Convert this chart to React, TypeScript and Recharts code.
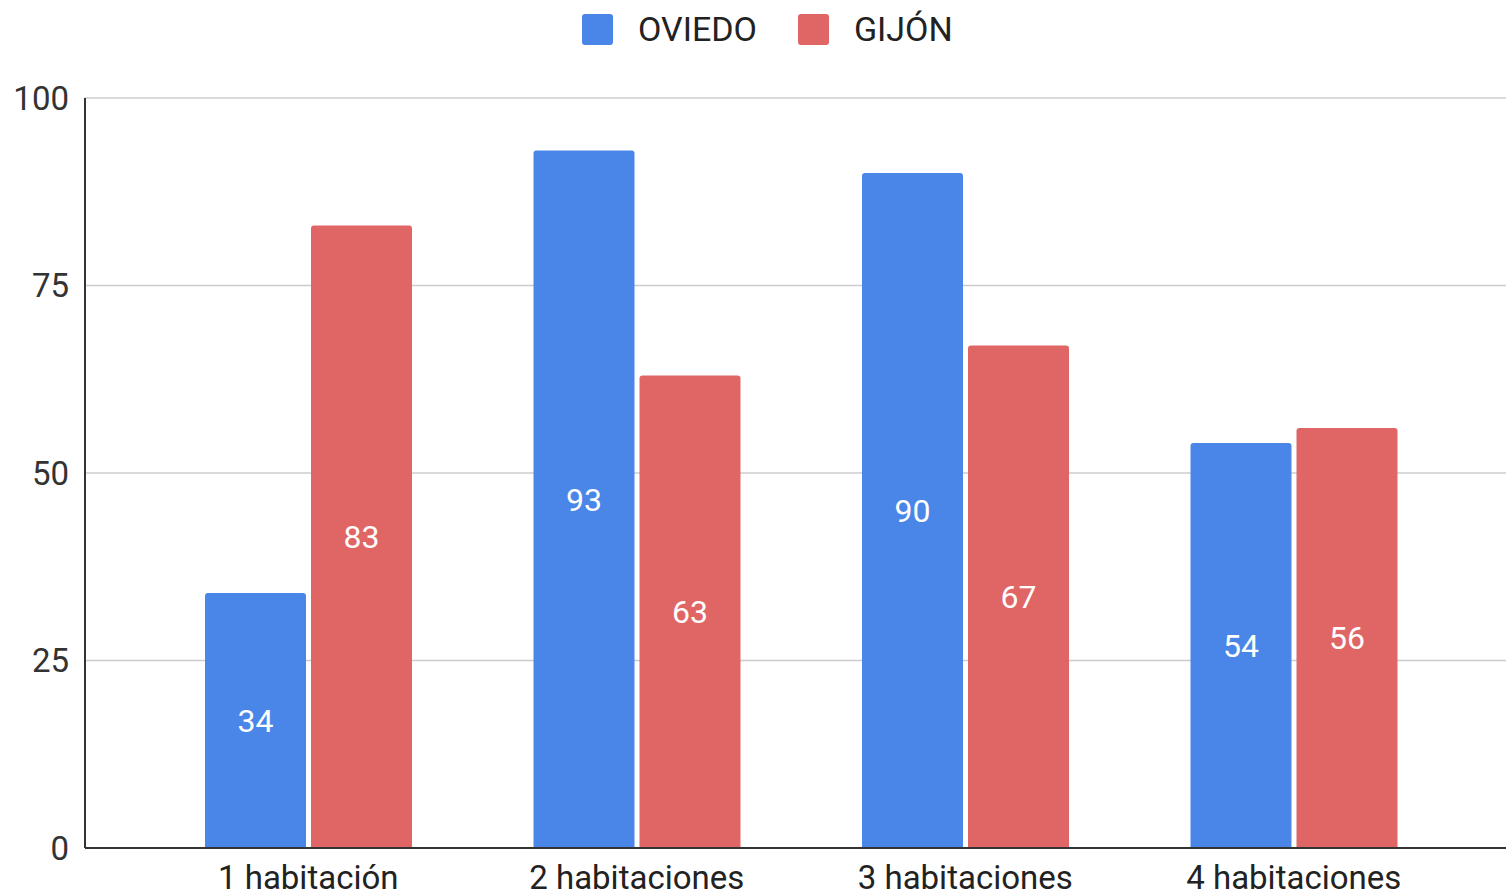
import { BarChart, Bar, XAxis, YAxis, CartesianGrid, LabelList } from "recharts";

const categories = ["1 habitación", "2 habitaciones", "3 habitaciones", "4 habitaciones"];
const oviedo = [34, 93, 90, 54];
const gijon = [83, 63, 67, 56];
const yTicks = [0, 25, 50, 75, 100];

const BLUE = "#4A86E8";
const RED = "#E06666";
const FONT = "Roboto, 'Noto Sans', sans-serif";

const data = categories.map((name, i) => ({ name, oviedo: oviedo[i], gijon: gijon[i] }));

const legendItems = [
  { label: "OVIEDO", color: BLUE },
  { label: "GIJÓN", color: RED },
];

export default function App() {
  return (
    <div
      style={{
        position: "absolute",
        left: 0,
        top: 0,
        width: 1506,
        height: 896,
        overflow: "hidden",
        background: "#fff",
        fontFamily: FONT,
      }}
    >
      {/* leyenda arriba, centrada */}
      <div
        style={{
          position: "absolute",
          top: 13,
          left: 582,
          display: "flex",
          alignItems: "center",
          height: 32,
        }}
      >
        {legendItems.map((it, i) => (
          <div key={it.label} style={{ display: "flex", alignItems: "center", marginRight: i === 0 ? 41 : 0 }}>
            <div style={{ width: 31, height: 31, borderRadius: 3, background: it.color, marginRight: 25 }} />
            <span style={{ fontSize: 34, color: "#222", lineHeight: "32px" }}>{it.label}</span>
          </div>
        ))}
      </div>
      <BarChart
        width={1530}
        height={896}
        data={data}
        margin={{ top: 98, right: 13, bottom: 0, left: 0 }}
        barSize={101}
        barGap={5}
      >
        <CartesianGrid horizontal vertical={false} stroke="#cccccc" strokeWidth={1.5} />
        <XAxis
          dataKey="name"
          height={48}
          padding={{ left: 59, right: 59 }}
          tickLine={false}
          tickMargin={12}
          axisLine={{ stroke: "#333", strokeWidth: 2 }}
          tick={{ fontSize: 33, fill: "#222", fontFamily: FONT }}
        />
        <YAxis
          width={85}
          domain={[0, 100]}
          ticks={yTicks}
          tickLine={false}
          tickMargin={10}
          axisLine={{ stroke: "#333", strokeWidth: 2 }}
          tick={{ fontSize: 33, fill: "#333", fontFamily: FONT }}
        />
        <Bar dataKey="oviedo" fill={BLUE} radius={[3, 3, 0, 0]} isAnimationActive={false}>
          <LabelList dataKey="oviedo" position="center" fill="#fff" fontSize={32} fontFamily={FONT} />
        </Bar>
        <Bar dataKey="gijon" fill={RED} radius={[3, 3, 0, 0]} isAnimationActive={false}>
          <LabelList dataKey="gijon" position="center" fill="#fff" fontSize={32} fontFamily={FONT} />
        </Bar>
      </BarChart>
    </div>
  );
}
